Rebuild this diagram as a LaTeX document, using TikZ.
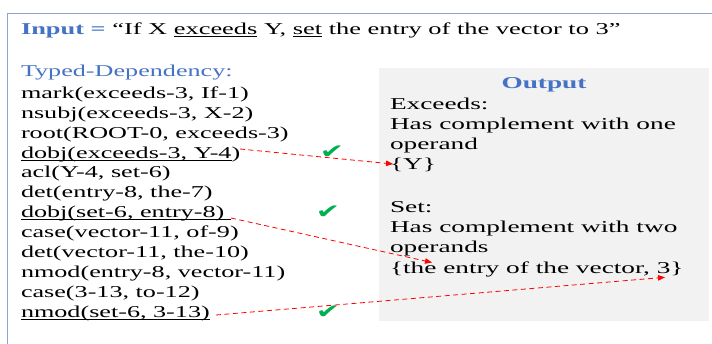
\documentclass[tikz,border=0pt]{standalone}
\usepackage{fontspec}
\usepackage{graphicx}
\setmainfont{Liberation Serif}[FakeStretch=1.575]
\newfontfamily\inputfont{Liberation Serif}[FakeStretch=1.59]
\newfontfamily\outfont{Liberation Serif}[FakeStretch=1.645]
\newfontfamily\symfont{DejaVu Sans}
\usetikzlibrary{arrows.meta}
\definecolor{hdblue}{RGB}{68,114,196}
\definecolor{frameblue}{RGB}{143,163,207}
\definecolor{boxgrey}{RGB}{242,242,242}
\definecolor{chkgreen}{RGB}{0,176,80}
\newsavebox\ulbox
\newcommand\myul[1]{\sbox\ulbox{#1}\rlap{\rule[-2.4pt]{\wd\ulbox}{0.9pt}}\usebox\ulbox}
\newcommand\mychk{\scalebox{1.45}[1]{✔}}
\begin{document}
\begin{tikzpicture}[x=1pt,y=-1pt,
  txt/.style={anchor=base west,inner sep=0pt,outer sep=0pt,font=\fontsize{16.6}{20}\selectfont},
  outtxt/.style={anchor=base west,inner sep=0pt,outer sep=0pt,font=\outfont\fontsize{16.6}{20}\selectfont},
  redarrow/.style={red,dash pattern=on 5pt off 3.5pt,line width=0.8pt,-{Triangle[length=7pt,width=5.5pt]}},
  chk/.style={text=chkgreen,font=\symfont\fontsize{20}{22}\selectfont,inner sep=0pt}]
\useasboundingbox (0,0) rectangle (712,343);
\clip (0,0) rectangle (712,343);
\draw[frameblue,line width=1.5pt] (7.5,13.5) rectangle (730,360);
\fill[boxgrey] (379,68) rectangle (709,321);
% input
\node[txt,font=\inputfont\fontsize{16.6}{20}\selectfont] (input) at (21,34)
  {\textcolor{hdblue}{\textbf{Input =}} “If X \myul{exceeds} Y, \myul{set} the entry of the vector to 3”};
% typed dependency
\node[txt,text=hdblue] (typed) at (21,76) {Typed-Dependency:};
\node[txt] (l0) at (21,98.3) {mark(exceeds-3, If-1)};
\node[txt] (l1) at (21,118.2) {nsubj(exceeds-3, X-2)};
\node[txt] (l2) at (21,138.1) {root(ROOT-0, exceeds-3)};
\node[txt] (l3) at (21,158.0) {\myul{dobj(exceeds-3, Y-4}{)}};
\node[txt] (l4) at (21,177.9) {acl(Y-4, set-6)};
\node[txt] (l5) at (21,197.8) {det(entry-8, the-7)};
\node[txt] (l6) at (21,217.7) {\myul{dobj(set-6, entry-8)\ }};
\node[txt] (l7) at (21,237.6) {case(vector-11, of-9)};
\node[txt] (l8) at (21,257.5) {det(vector-11, the-10)};
\node[txt] (l9) at (21,277.4) {nmod(entry-8, vector-11)};
\node[txt] (l10) at (21,297.3) {case(3-13, to-12)};
\node[txt] (l11) at (21,317.2) {\myul{nmod(set-6, 3-13)}};
% output
\node[anchor=base,inner sep=0pt,text=hdblue,font=\outfont\bfseries\fontsize{16.6}{20}\selectfont] (outtitle) at (544,88.3) {Output};
\node[outtxt] (o1) at (390,109.3) {Exceeds:};
\node[outtxt] (o2) at (390,129.5) {Has complement with one};
\node[outtxt] (o3) at (390,149.7) {operand};
\node[outtxt] (o4) at (390,169.9) {\{Y\}};
\node[outtxt] (o5) at (390,212.5) {Set:};
\node[outtxt] (o6) at (390,232.5) {Has complement with two};
\node[outtxt] (o7) at (390,252.5) {operands};
\node[outtxt] (o8) at (390,273) {\{the entry of the vector, 3\}};
% checks
\node[chk] (c1) at (332,152) {\mychk};
\node[chk] (c2) at (328,212) {\mychk};
\node[chk] (c3) at (328,312) {\mychk};
% arrows
\coordinate (a1s) at (240,149);
\coordinate (a1e) at (393,164);
\coordinate (a2s) at (231,218);
\coordinate (a2e) at (432,262.5);
\coordinate (a3s) at (216,315);
\coordinate (a3e) at (665,277.3);
\draw[redarrow] (a1s) -- (a1e);
\draw[redarrow] (a2s) -- (a2e);
\draw[redarrow] (a3s) -- (a3e);
\end{tikzpicture}
\end{document}
